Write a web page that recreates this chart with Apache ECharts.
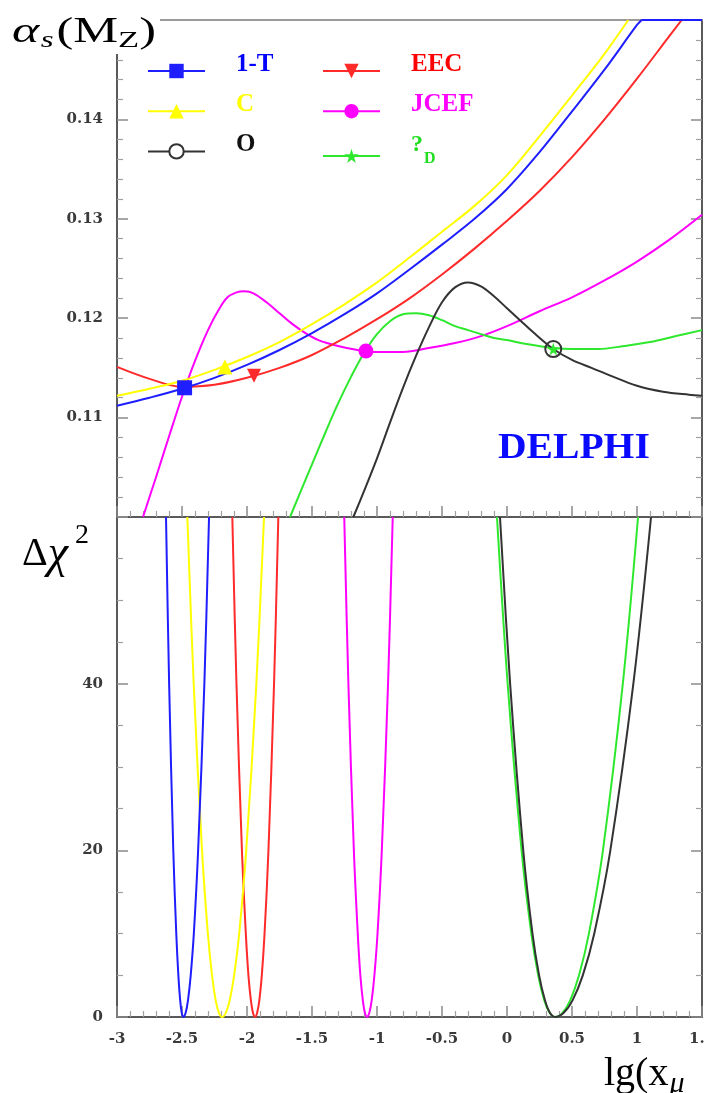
<!DOCTYPE html>
<html>
<head>
<meta charset="utf-8">
<script src="https://cdn.jsdelivr.net/npm/echarts@6/dist/echarts.min.js"></script>
<style>
html,body{margin:0;padding:0;background:#fff;}
#chart{width:704px;height:1093px;}
</style>
</head>
<body>
<div id="chart"></div>
<script>
// ---- alpha_s(M_Z) versus lg(x_mu), one curve per observable ----
// a null value breaks the line where a curve leaves the frame and runs along its top edge
const alphaOneMinusT = [[-3.0,0.1112],[-2.75,0.1120],[-2.5,0.1129],[-2.25,0.1140],[-2.0,0.1153],[-1.75,0.1168],[-1.5,0.1185],[-1.25,0.1204],[-1.0,0.1225],[-0.75,0.1249],[-0.5,0.1274],[-0.25,0.1300],[0.0,0.1330],[0.25,0.1367],[0.5,0.1408],[0.75,0.1450],[1.0,0.1495],[1.036,0.1500],[1.2,null],[1.036,0.1500],[1.5,0.1500]];
const alphaC = [[-3.0,0.1122],[-2.75,0.1129],[-2.5,0.1137],[-2.25,0.1148],[-2.0,0.1161],[-1.75,0.1176],[-1.5,0.1194],[-1.25,0.1214],[-1.0,0.1236],[-0.75,0.1261],[-0.5,0.1287],[-0.25,0.1313],[0.0,0.1344],[0.25,0.1383],[0.5,0.1424],[0.75,0.1466],[0.933,0.1500]];
const alphaO = [[-1.182,0.1000],[-1.1,0.1026],[-1.0,0.1059],[-0.9,0.1095],[-0.8,0.1130],[-0.7,0.1162],[-0.6,0.1191],[-0.5,0.1216],[-0.4,0.1231],[-0.3,0.1236],[-0.2,0.1232],[-0.1,0.1222],[0.0,0.1210],[0.1,0.1198],[0.2,0.1186],[0.356,0.1169],[0.5,0.1158],[0.65,0.1150],[0.8,0.1142],[1.0,0.1132],[1.2,0.1126],[1.4,0.1123],[1.5,0.1122]];
const alphaEEC = [[-3.0,0.1151],[-2.75,0.1139],[-2.5,0.1131],[-2.25,0.1133],[-2.0,0.1140],[-1.75,0.1150],[-1.5,0.1163],[-1.25,0.1180],[-1.0,0.1199],[-0.75,0.1220],[-0.5,0.1244],[-0.25,0.1270],[0.0,0.1298],[0.25,0.1328],[0.5,0.1362],[0.75,0.1400],[1.0,0.1441],[1.25,0.1484],[1.344,0.1500]];
const alphaJCEF = [[-2.80,0.1000],[-2.70,0.1040],[-2.60,0.1081],[-2.50,0.1121],[-2.40,0.1157],[-2.30,0.1188],[-2.22,0.1208],[-2.15,0.1221],[-2.08,0.1226],[-2.02,0.1227],[-1.95,0.1225],[-1.85,0.1216],[-1.75,0.1205],[-1.65,0.1194],[-1.55,0.1185],[-1.45,0.1178],[-1.3,0.1172],[-1.15,0.1168],[-1.0,0.1166],[-0.8,0.1166],[-0.6,0.1170],[-0.4,0.1175],[-0.2,0.1182],[0.0,0.1192],[0.25,0.1207],[0.5,0.1221],[0.75,0.1238],[1.0,0.1257],[1.25,0.1279],[1.5,0.1304]];
const alphaYD = [[-1.669,0.1000],[-1.5,0.1053],[-1.4,0.1084],[-1.3,0.1114],[-1.2,0.1141],[-1.1,0.1165],[-1.0,0.1184],[-0.9,0.1197],[-0.8,0.1204],[-0.7,0.1205],[-0.6,0.1203],[-0.5,0.1198],[-0.4,0.1192],[-0.3,0.1188],[-0.2,0.1184],[-0.1,0.1180],[0.0,0.1178],[0.15,0.1174],[0.356,0.1170],[0.5,0.1169],[0.7,0.1169],[0.9,0.1172],[1.1,0.1176],[1.3,0.1182],[1.5,0.1188]];

// best-fit points (minimum of the chi2 curves below)
const bestOneMinusT = [-2.48, 0.1130];
const bestC = [-2.17, 0.1151];
const bestEEC = [-1.946, 0.1142];
const bestJCEF = [-1.085, 0.1167];
const bestO = [0.356, 0.1169];
const bestYD = [0.356, 0.1169];

// ---- delta chi2 versus lg(x_mu) ----
const chiOneMinusT = [[-2.623,60],[-2.599,40],[-2.567,20],[-2.544,10],[-2.528,5],[-2.514,2],[-2.502,0.5],[-2.49,0],[-2.472,0.5],[-2.454,2],[-2.433,5],[-2.409,10],[-2.376,20],[-2.328,40],[-2.292,60]];
const chiC = [[-2.459,60],[-2.410,40],[-2.346,20],[-2.301,10],[-2.269,5],[-2.241,2],[-2.216,0.5],[-2.192,0],[-2.163,0.5],[-2.133,2],[-2.099,5],[-2.060,10],[-2.006,20],[-1.928,40],[-1.869,60]];
const chiEEC = [[-2.113,60],[-2.081,40],[-2.039,20],[-2.009,10],[-1.989,5],[-1.970,2],[-1.954,0.5],[-1.938,0],[-1.922,0.5],[-1.905,2],[-1.886,5],[-1.865,10],[-1.835,20],[-1.792,40],[-1.759,60]];
const chiJCEF = [[-1.252,60],[-1.220,40],[-1.178,20],[-1.148,10],[-1.128,5],[-1.109,2],[-1.093,0.5],[-1.077,0],[-1.059,0.5],[-1.041,2],[-1.020,5],[-0.996,10],[-0.963,20],[-0.915,40],[-0.879,60]];
const chiO = [[-0.054,60],[0.024,40],[0.125,20],[0.196,10],[0.247,5],[0.292,2],[0.330,0.5],[0.369,0],[0.436,0.5],[0.504,2],[0.583,5],[0.671,10],[0.795,20],[0.972,40],[1.108,60]];
const chiYD = [[-0.077,60],[0.005,40],[0.112,20],[0.187,10],[0.240,5],[0.287,2],[0.328,0.5],[0.369,0],[0.427,0.5],[0.486,2],[0.554,5],[0.630,10],[0.738,20],[0.891,40],[1.008,60]];

// ---- axes ----
const xMin = -3, xMax = 1.5, xStep = 0.5;
const alphaMin = 0.10, alphaMax = 0.15, alphaStep = 0.01;
const chiMin = 0, chiMax = 60, chiStep = 20;

const legendLeft = ['1-T', 'C', 'O'];
const legendRight = ['EEC', 'JCEF', '?_D'];

const serif = '"Liberation Serif","DejaVu Serif",serif';
const wideSerif = '"DejaVu Serif","Liberation Serif",serif';
const starPath = 'path://M50,0 L61,35 L98,35 L68,57 L79,91 L50,70 L21,91 L32,57 L2,35 L39,35 Z';
const downTriangle = 'path://M0,0 L20,0 L10,18 Z';

const styles = {
  '1-T':  {color: '#1e1eff', symbol: 'rect', size: 15, text: '#0000ff'},
  'C':    {color: '#ffff00', symbol: 'triangle', size: 15, text: '#ffff00'},
  'O':    {color: '#333333', symbol: 'emptyCircle', size: 16, text: '#111111'},
  'EEC':  {color: '#ff2a2a', symbol: downTriangle, size: 14, text: '#ff0000'},
  'JCEF': {color: '#ff00ff', symbol: 'circle', size: 15, text: '#ff00ff'},
  '?_D':  {color: '#2ee82e', symbol: starPath, size: 13, text: '#22dd22'}
};

function alphaSeries(name, data, best) {
  const s = styles[name];
  const open = name === 'O';
  return {
    name: name, type: 'line', xAxisIndex: 0, yAxisIndex: 0,
    data: data, smooth: 0.35, showSymbol: false, connectNulls: false,
    symbol: s.symbol, symbolSize: s.size,
    lineStyle: {color: s.color, width: 2},
    itemStyle: {color: s.color, borderColor: s.color, borderWidth: open ? 2 : 0},
    markPoint: {
      symbol: open ? 'circle' : s.symbol, symbolSize: s.size, silent: true,
      label: {show: false},
      itemStyle: open
        ? {color: 'rgba(0,0,0,0)', borderColor: s.color, borderWidth: 2}
        : {color: s.color},
      data: [{coord: best}]
    }
  };
}
function chiSeries(name, data) {
  const s = styles[name];
  return {
    name: name, type: 'line', xAxisIndex: 2, yAxisIndex: 2,
    data: data, smooth: 0.35, showSymbol: false, symbol: 'none',
    lineStyle: {color: s.color, width: 2}
  };
}

const axisLine = {show: true, onZero: false, lineStyle: {color: '#5a5a5a', width: 2}};
const tick = {show: true, inside: true, length: 11, lineStyle: {color: '#8a8a8a', width: 1.5}};
const minor = {show: true, splitNumber: 5, length: 6, lineStyle: {color: '#a0a0a0', width: 1.2}};
const tickFont = {fontFamily: wideSerif, fontWeight: 'bold', fontSize: 15, color: '#3a3a3a'};

function legendItem(name) {
  return {name: name, textStyle: {color: styles[name].text}};
}
const legendCommon = {
  orient: 'vertical', itemWidth: 57, itemHeight: 18, itemGap: 14, padding: 0,
  selectedMode: false,
  textStyle: {fontFamily: serif, fontWeight: 'bold', fontSize: 25, padding: [0, 0, 13, 26],
    rich: {
      q: {fontFamily: serif, fontWeight: 'bold', fontSize: 24, color: '#22dd22', padding: [0, 0, 10, 0]},
      d: {fontFamily: serif, fontWeight: 'bold', fontSize: 16, color: '#22dd22', padding: [18, 0, 0, 1]}
    }
  },
  formatter: function (name) { return name === '?_D' ? '{q|?}{d|D}' : name; }
};

const chart = echarts.init(document.getElementById('chart'), null, {renderer: 'canvas'});
chart.setOption({
  animation: false,
  backgroundColor: '#ffffff',
  grid: [
    {left: 117, top: 20, width: 585, height: 497, outerBoundsMode: 'none', containLabel: false},
    {left: 117, top: 517, width: 585, height: 500, outerBoundsMode: 'none', containLabel: false}
  ],
  xAxis: [
    {type: 'value', gridIndex: 0, min: xMin, max: xMax, interval: xStep, position: 'bottom',
     axisLine: axisLine, axisTick: tick, minorTick: minor, axisLabel: {show: false}, splitLine: {show: false}},
    {type: 'value', gridIndex: 0, min: xMin, max: xMax, interval: xStep, position: 'top',
     axisLine: {show: true, onZero: false, lineStyle: {color: '#9a9a9a', width: 2}}, axisTick: {show: false}, axisLabel: {show: false}, splitLine: {show: false}},
    {type: 'value', gridIndex: 1, min: xMin, max: xMax, interval: xStep, position: 'bottom',
     axisLine: axisLine, axisTick: tick, minorTick: minor, splitLine: {show: false},
     axisLabel: Object.assign({margin: 15, showMaxLabel: true}, tickFont)}
  ],
  yAxis: [
    {type: 'value', gridIndex: 0, min: alphaMin, max: alphaMax, interval: alphaStep, position: 'left',
     axisLine: axisLine, axisTick: tick, minorTick: minor, splitLine: {show: false},
     axisLabel: Object.assign({margin: 14, showMinLabel: false, showMaxLabel: false,
       formatter: function (v) { return v.toFixed(2); }}, tickFont)},
    {type: 'value', gridIndex: 0, min: alphaMin, max: alphaMax, interval: alphaStep, position: 'right',
     axisLine: axisLine, axisTick: tick, minorTick: minor, splitLine: {show: false}, axisLabel: {show: false}},
    {type: 'value', gridIndex: 1, min: chiMin, max: chiMax, interval: chiStep, position: 'left',
     axisLine: axisLine, axisTick: tick, minorTick: Object.assign({}, minor, {splitNumber: 4}), splitLine: {show: false},
     axisLabel: Object.assign({margin: 14, showMaxLabel: false}, tickFont)},
    {type: 'value', gridIndex: 1, min: chiMin, max: chiMax, interval: chiStep, position: 'right',
     axisLine: axisLine, axisTick: tick, minorTick: Object.assign({}, minor, {splitNumber: 4}), splitLine: {show: false}, axisLabel: {show: false}}
  ],
  legend: [
    Object.assign({left: 147, top: 52, data: legendLeft.map(legendItem)}, legendCommon),
    Object.assign({left: 322, top: 52, data: legendRight.map(legendItem)}, legendCommon)
  ],
  series: [
    alphaSeries('JCEF', alphaJCEF, bestJCEF),
    alphaSeries('?_D', alphaYD, bestYD),
    alphaSeries('O', alphaO, bestO),
    alphaSeries('EEC', alphaEEC, bestEEC),
    alphaSeries('C', alphaC, bestC),
    alphaSeries('1-T', alphaOneMinusT, bestOneMinusT),
    chiSeries('JCEF', chiJCEF),
    chiSeries('?_D', chiYD),
    chiSeries('O', chiO),
    chiSeries('EEC', chiEEC),
    chiSeries('C', chiC),
    chiSeries('1-T', chiOneMinusT)
  ],
  graphic: [
    {type: 'rect', left: 100, top: 0, shape: {width: 60, height: 54}, style: {fill: '#ffffff'}, z: 50},
    {type: 'text', x: 12, y: 12, scaleX: 1.44, z: 60, style: {
      text: '{a|α}{s|s}{p|(M}{z|Z}{p|)}',
      rich: {
        a: {font: 'italic 36px ' + serif, fill: '#000', padding: [0, 1, 0, 0]},
        s: {font: 'italic 23px ' + serif, fill: '#000', padding: [17, 2, 0, 0]},
        p: {font: '35px ' + serif, fill: '#000'},
        z: {font: '24px ' + serif, fill: '#000', padding: [17, 0, 0, 0]}
      }
    }},
    {type: 'text', x: 22, y: 516, z: 60, style: {
      text: '{d|Δ}{c|χ}{e|2}',
      rich: {
        d: {font: '40px ' + serif, fill: '#000', padding: [14, 0, 0, 0]},
        c: {font: 'italic 46px ' + serif, fill: '#000', padding: [16, 0, 0, 0]},
        e: {font: '28px ' + serif, fill: '#000', padding: [0, 0, 22, 7]}
      }
    }},
    {type: 'text', x: 604, y: 1049, z: 60, style: {
      text: '{l|lg(x}{m|μ}{l|)}',
      rich: {
        l: {font: '40px ' + serif, fill: '#000'},
        m: {font: 'italic 30px ' + serif, fill: '#000', padding: [20, 24, 0, 1]}
      }
    }},
    {type: 'text', x: 498, y: 431, scaleX: 1.1, z: 60, style: {
      text: 'DELPHI', font: 'bold 36px ' + serif, fill: '#0a0aff'
    }}
  ]
});
</script>
</body>
</html>
